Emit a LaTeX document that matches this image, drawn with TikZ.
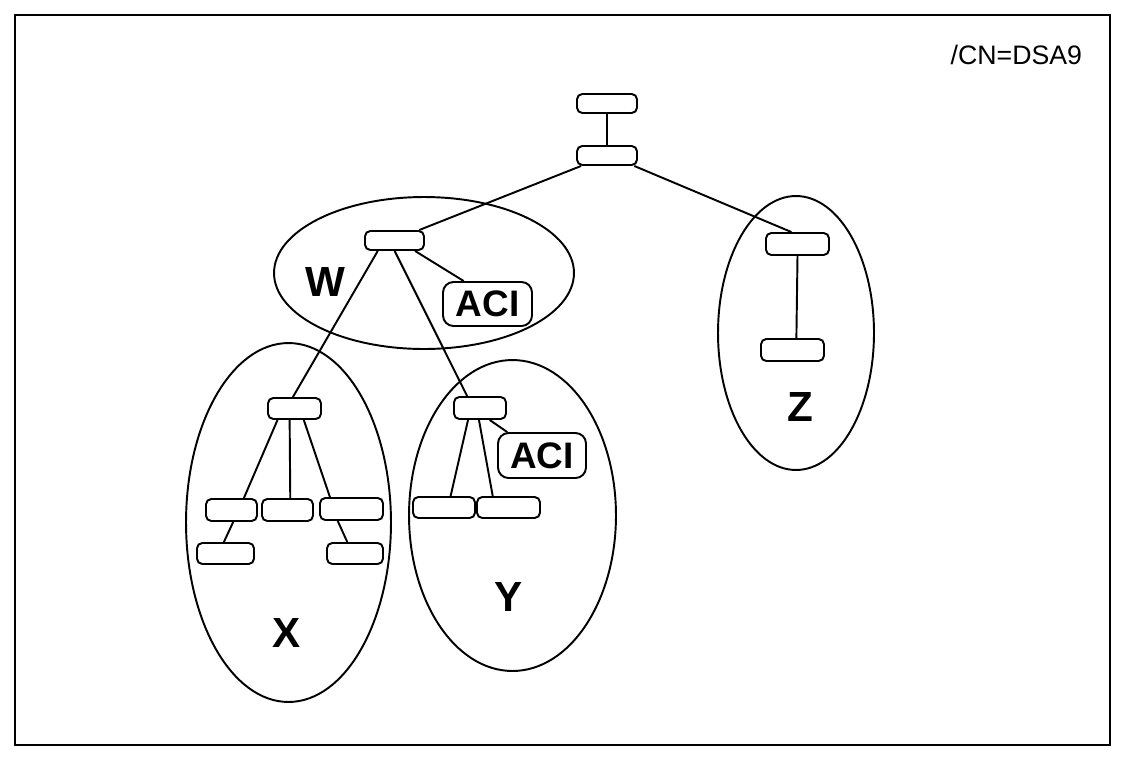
\documentclass[tikz,border=0pt]{standalone}
\usepackage{fontspec}
\setmainfont{Liberation Sans}
\usepackage{tikz}

\begin{document}
\begin{tikzpicture}[x=0.02cm,y=-0.02cm,line width=1.1pt,
    entry/.style={draw,rounded corners=3pt,minimum height=0.4cm,inner sep=0pt},
    aci/.style={draw,rounded corners=6pt,minimum width=1.78cm,minimum height=0.88cm,inner sep=0pt,font=\fontsize{21}{24}\selectfont\bfseries},
    region/.style={font=\fontsize{24}{28}\selectfont\bfseries}]
        \useasboundingbox (0,0) rectangle (1125,758);
        % frame
        \draw (15,15) rectangle (1110,745);
        \node[anchor=east,inner sep=0pt,font=\fontsize{15.2}{18}\selectfont] (cn) at (1083,55) {/CN=DSA9};
        % regions
        \draw (424,273) ellipse [x radius=3cm,y radius=1.52cm];
        \draw (288.5,522.5) ellipse [x radius=2.05cm,y radius=3.59cm];
        \draw (512.5,515.5) ellipse [x radius=2.07cm,y radius=3.11cm];
        \draw (796,333) ellipse [x radius=1.56cm,y radius=2.74cm];
        \node[region] (lw) at (325,282) {W};
        \node[region] (lx) at (287,633) {X};
        \node[region] (ly) at (509,597) {Y};
        \node[region] (lz) at (800,407) {Z};
        % entries
        \node[entry,minimum width=1.2cm,minimum height=0.38cm] (r1) at (607,103.5) {};
        \node[entry,minimum width=1.2cm,minimum height=0.38cm] (r2) at (607,155.5) {};
        \node[entry,minimum width=1.18cm,minimum height=0.38cm] (wb) at (394.5,240.5) {};
        \node[aci] (wa) at (487.5,304) {ACI};
        \node[entry,minimum width=1.06cm,minimum height=0.42cm] (xt) at (294.5,408.5) {};
        \node[entry,minimum width=1.02cm,minimum height=0.44cm] (x1) at (231.5,510) {};
        \node[entry,minimum width=1.02cm,minimum height=0.44cm] (x2) at (287.5,510) {};
        \node[entry,minimum width=1.26cm,minimum height=0.44cm] (x3) at (351.5,509) {};
        \node[entry,minimum width=1.14cm,minimum height=0.42cm] (x4) at (225.5,553.5) {};
        \node[entry,minimum width=1.12cm,minimum height=0.42cm] (x5) at (355,553.5) {};
        \node[entry,minimum width=1.04cm,minimum height=0.44cm] (yt) at (480,408) {};
        \node[aci,minimum width=1.76cm,minimum height=0.9cm] (ya) at (542,455.5) {ACI};
        \node[entry,minimum width=1.24cm,minimum height=0.42cm] (y1) at (444,507.5) {};
        \node[entry,minimum width=1.26cm,minimum height=0.42cm] (y2) at (508.5,507.5) {};
        \node[entry,minimum width=1.26cm,minimum height=0.44cm] (zt) at (797.5,244) {};
        \node[entry,minimum width=1.26cm,minimum height=0.44cm] (zb) at (792.5,350) {};
        % links
        \draw (r1.south) -- (r2.north);
        \draw (r2.-158) -- (wb.23);
        \draw (r2.-21) -- (zt.117);
        \draw (wb.-27) -- (wa.136);
        \draw (wb.-148) -- (xt.98);
        \draw (wb.-89) -- (yt.137);
        \draw (xt.-146) -- (x1.44);
        \draw (xt.-113) -- (x2.77);
        \draw (xt.-51) -- (x3.151);
        \draw (x1.-82) -- (x4.98);
        \draw (x3.-139) -- (x5.124);
        \draw (yt.-135) -- (y1.60);
        \draw (yt.-95) -- (y2.144);
        \draw (yt.-51) -- (ya.146);
        \draw (zt.south) -- (zb.72);
    \end{tikzpicture}
\end{document}
